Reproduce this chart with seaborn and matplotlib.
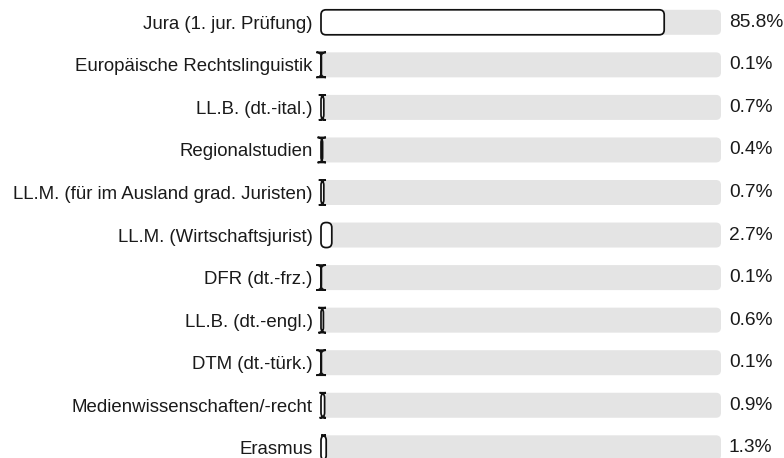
import matplotlib
matplotlib.use("Agg")
import matplotlib.pyplot as plt
import seaborn as sns
import pandas as pd
from matplotlib.patches import FancyBboxPatch

categories = [
    "Jura (1. jur. Prüfung)",
    "Europäische Rechtslinguistik",
    "LL.B. (dt.-ital.)",
    "Regionalstudien",
    "LL.M. (für im Ausland grad. Juristen)",
    "LL.M. (Wirtschaftsjurist)",
    "DFR (dt.-frz.)",
    "LL.B. (dt.-engl.)",
    "DTM (dt.-türk.)",
    "Medienwissenschaften/-recht",
    "Erasmus",
]
values = [85.8, 0.1, 0.7, 0.4, 0.7, 2.7, 0.1, 0.6, 0.1, 0.9, 1.3]
track = [100] * len(categories)

df = pd.DataFrame({"cat": categories, "val": values, "track": track})

sns.set_theme(style="white")
plt.rcParams["font.family"] = ["Liberation Sans", "DejaVu Sans"]

W, H = 784, 458
fig = plt.figure(figsize=(W / 100, H / 100), dpi=100)
x0, x1 = 321, 721
ax = fig.add_axes([x0 / W, 0, (x1 - x0) / W, 1])

row0, step = 22.3, 42.55
bw = 25 / step
sns.barplot(data=df, y="cat", x="track", orient="h", color="#e4e4e4",
            width=bw, ax=ax, linewidth=0, saturation=1)
n_track = len(ax.patches)
sns.barplot(data=df, y="cat", x="val", orient="h", color="white",
            width=bw, ax=ax, edgecolor="#111111", linewidth=1.25, saturation=1)

ax.set_xlim(0, 100)
ax.set_ylim((H - row0) / step, -row0 / step)

xpp = 100 / (x1 - x0)
ypp = 1 / step
r = 5 * xpp
aspect = ypp / xpp

patches = list(ax.patches)
for i, p in enumerate(patches):
    x, y = p.get_x(), p.get_y()
    w, h = p.get_width(), p.get_height()
    fc = p.get_facecolor()
    ec = p.get_edgecolor()
    lw = p.get_linewidth()
    p.remove()
    is_bar = i >= n_track
    fb = FancyBboxPatch((x, y), w, h,
                        boxstyle=f"round,pad=0,rounding_size={r}",
                        mutation_aspect=aspect, facecolor=fc,
                        edgecolor=ec if is_bar else "none",
                        linewidth=lw if is_bar else 0,
                        zorder=2 if is_bar else 1, clip_on=False)
    ax.add_patch(fb)

ax.set_xlabel("")
ax.set_ylabel("")
ax.set_xticks([])
ax.tick_params(axis="y", length=0, pad=6, labelsize=13.45, labelcolor="#1a1a1a")
for s in ax.spines.values():
    s.set_visible(False)

for i, v in enumerate(values):
    ax.text(102.0, i, f"{v:.1f}%", va="center", ha="left",
            fontsize=13.8, color="#1a1a1a")

fig.savefig("out.png", dpi=100)
